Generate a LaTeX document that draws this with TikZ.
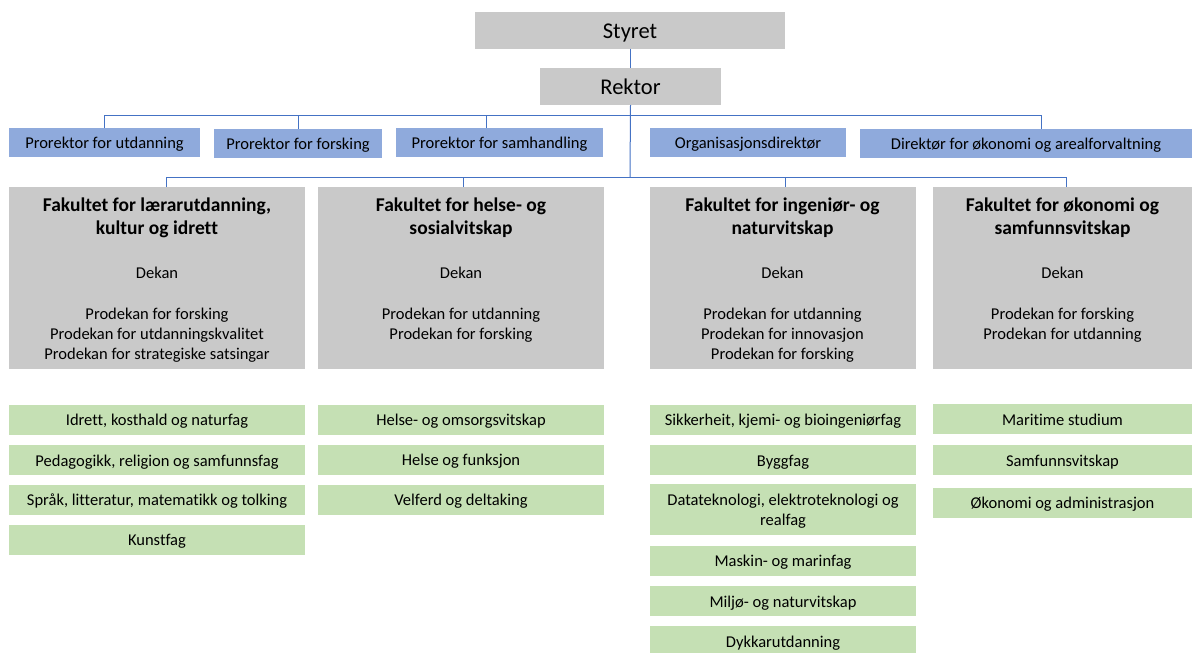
\documentclass[tikz,border=0pt]{standalone}
\usepackage{fontspec}
\setmainfont{Carlito}[Ligatures={NoCommon}]
\definecolor{boxgrey}{HTML}{C9C9C9}
\definecolor{boxblue}{HTML}{8FAADC}
\definecolor{boxgreen}{HTML}{C5E0B4}
\definecolor{linkblue}{HTML}{4472C4}
\begin{document}
\begin{tikzpicture}[x=1pt,y=-1pt,
  base/.style={inner sep=0pt, outer sep=0pt, align=center},
  bodyfont/.style={font=\fontsize{16.5}{20}\selectfont},
  % one-line box text: baseline sits 6pt below the box centre
  boxline/.style={base, bodyfont, text height=14pt, text depth=2pt},
  topbox/.style={base, fill=boxgrey, font=\fontsize{22.5}{26}\selectfont,
                 text height=18pt, text depth=2pt, minimum height=37},
  rolebox/.style={boxline, fill=boxblue, minimum height=29},
  facbox/.style={base, fill=boxgrey, minimum height=182},
  titleline/.style={base, anchor=base, font=\fontsize{19.5}{23}\selectfont\bfseries},
  textline/.style={base, anchor=base, bodyfont},
  deptbox/.style={boxline, fill=boxgreen, minimum height=30},
  colA/.style={minimum width=296},
  colB/.style={minimum width=286},
  colC/.style={minimum width=266},
  colD/.style={minimum width=259},
  conn/.style={draw=linkblue, line width=1pt}]
\useasboundingbox (0,0) rectangle (1192,653);
\clip (0,0) rectangle (1192,653);

% governing board and rector
\node[topbox, minimum width=310] (styret) at (630,30.2) {Styret};
\node[topbox, minimum width=181] (rektor) at (630.5,86.5) {Rektor};

% rector's staff
\node[rolebox, minimum width=191] (pr1) at (104.5,142.5) {Prorektor for utdanning};
\node[rolebox, minimum width=168] (pr2) at (298,143.5) {Prorektor for forsking};
\node[rolebox, minimum width=207] (pr3) at (499.5,142.5) {Prorektor for samhandling};
\node[rolebox, minimum width=196] (org) at (748,142.5) {Organisasjonsdirektør};
\node[rolebox, minimum width=332] (dir) at (1026,143.5) {Direktør for økonomi og arealforvaltning};

% faculties
\node[facbox, colA] (fak1) at (156.5,278) {};
\node[facbox, colB] (fak2) at (461,278) {};
\node[facbox, colC] (fak3) at (782.5,278) {};
\node[facbox, colD] (fak4) at (1062.5,278) {};

\node[titleline] (t1a) at (157,211.5) {Fakultet for lærarutdanning,};
\node[titleline] (t1b) at (157,234) {kultur og idrett};
\node[titleline] (t2a) at (461,211.5) {Fakultet for helse- og};
\node[titleline] (t2b) at (461,234) {sosialvitskap};
\node[titleline] (t3a) at (782.5,211.5) {Fakultet for ingeniør- og};
\node[titleline] (t3b) at (782.5,234) {naturvitskap};
\node[titleline] (t4a) at (1062.5,211.5) {Fakultet for økonomi og};
\node[titleline] (t4b) at (1062.5,234) {samfunnsvitskap};

\node[textline] (d1) at (157,278.5) {Dekan};
\node[textline] (d2) at (461,278.5) {Dekan};
\node[textline] (d3) at (782.5,278.5) {Dekan};
\node[textline] (d4) at (1062.5,278.5) {Dekan};

\node[textline] (p1a) at (157,319.5) {Prodekan for forsking};
\node[textline] (p1b) at (157,339.5) {Prodekan for utdanningskvalitet};
\node[textline] (p1c) at (157,359.5) {Prodekan for strategiske satsingar};
\node[textline] (p2a) at (461,319.5) {Prodekan for utdanning};
\node[textline] (p2b) at (461,339.5) {Prodekan for forsking};
\node[textline] (p3a) at (782.5,319.5) {Prodekan for utdanning};
\node[textline] (p3b) at (782.5,339.5) {Prodekan for innovasjon};
\node[textline] (p3c) at (782.5,359.5) {Prodekan for forsking};
\node[textline] (p4a) at (1062.5,319.5) {Prodekan for forsking};
\node[textline] (p4b) at (1062.5,339.5) {Prodekan for utdanning};

% departments
\node[deptbox, colA] (a1) at (157,419.5) {Idrett, kosthald og naturfag};
\node[deptbox, colA] (a2) at (157,460) {Pedagogikk, religion og samfunnsfag};
\node[deptbox, colA] (a3) at (157,499.5) {Språk, litteratur, matematikk og tolking};
\node[deptbox, colA] (a4) at (157,539.5) {Kunstfag};

\node[deptbox, colB] (b1) at (461,419.5) {Helse- og omsorgsvitskap};
\node[deptbox, colB] (b2) at (461,459.5) {Helse og funksjon};
\node[deptbox, colB] (b3) at (461,499.5) {Velferd og deltaking};

\node[deptbox, colC] (c1) at (783,419.5) {Sikkerheit, kjemi- og bioingeniørfag};
\node[deptbox, colC] (c2) at (783,460) {Byggfag};
\node[deptbox, colC, minimum height=51] (c3) at (783,509.5) {};
\node[textline] (c3a) at (783,505.5) {Datateknologi, elektroteknologi og};
\node[textline] (c3b) at (783,525.5) {realfag};
\node[deptbox, colC] (c4) at (783,560.5) {Maskin- og marinfag};
\node[deptbox, colC] (c5) at (783,601) {Miljø- og naturvitskap};
\node[deptbox, colC] (c6) at (783,641) {Dykkarutdanning};

\node[deptbox, colD] (e1) at (1062.5,419) {Maritime studium};
\node[deptbox, colD] (e2) at (1062.5,460) {Samfunnsvitskap};
\node[deptbox, colD] (e3) at (1062.5,502.5) {Økonomi og administrasjon};

% connector buses
\coordinate (pbus) at (630,115);
\coordinate (fbus) at (630,177);

\draw[conn] (styret.south) -- (styret.south |- rektor.north);
\draw[conn] (rektor.south) -- (fbus);

\draw[conn] (pr1.north) |- ([xshift=15pt]dir.north |- pbus) -- ([xshift=15pt]dir.north);
\draw[conn] (pr2.north) -- (pr2.north |- pbus);
\draw[conn] ([xshift=-13pt]pr3.north) -- ([xshift=-13pt]pr3.north |- pbus);

\draw[conn] ([xshift=9.5pt]fak1.north) |- ([xshift=3.5pt]fak4.north |- fbus) -- ([xshift=3.5pt]fak4.north);
\draw[conn] ([xshift=2pt]fak2.north) -- ([xshift=2pt]fak2.north |- fbus);
\draw[conn] ([xshift=2.5pt]fak3.north) -- ([xshift=2.5pt]fak3.north |- fbus);
\end{tikzpicture}
\end{document}
